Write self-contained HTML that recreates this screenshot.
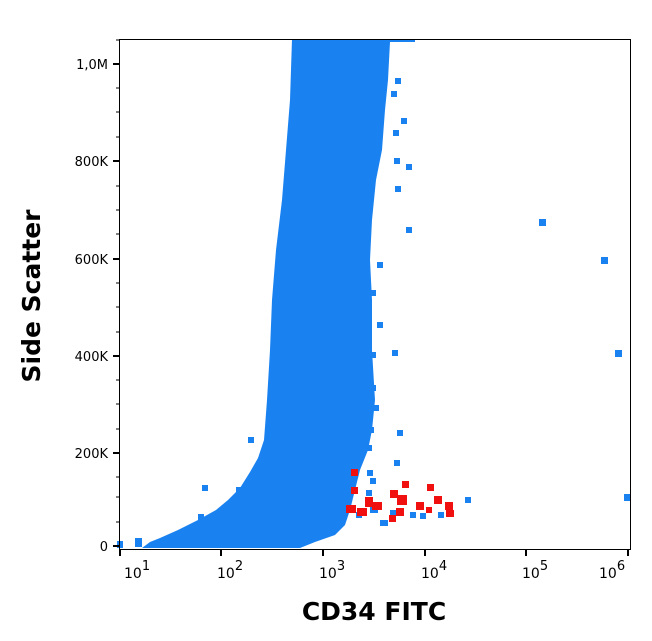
<!DOCTYPE html>
<html><head><meta charset="utf-8"><style>
html,body{margin:0;padding:0;background:#fff;width:652px;height:641px;overflow:hidden}
svg{display:block}
text{font-family:"DejaVu Sans","Liberation Sans",sans-serif}
</style></head><body>
<svg width="652" height="641" viewBox="0 0 652 641" xmlns="http://www.w3.org/2000/svg">
<g fill="#1a82f0">
<polygon points="292,39 415,39 415,42 390,42 388,80 385,110 382,150 376,180 372,220 370,260 372,300 372,350 375,400 372,430 368,450 360,470 355,490 350,510 345,525 335,535 315,542 300,548 142,548 150,542 160,538 178,530 198,520 216,510 228,500 240,488 250,472 258,458 264,440 267,400 270,350 272,300 276,250 282,200 286,150 290,100"/>
<rect x="117" y="541" width="6" height="7"/><rect x="135" y="538" width="7" height="9"/>
<rect x="198" y="514" width="6" height="6"/><rect x="202" y="485" width="6" height="6"/>
<rect x="236" y="487" width="6" height="6"/><rect x="248" y="437" width="6" height="6"/>
<rect x="261" y="498" width="5" height="8"/>
<rect x="395" y="78" width="6" height="6"/><rect x="391" y="91" width="6" height="6"/>
<rect x="401" y="118" width="6" height="6"/><rect x="393" y="130" width="6" height="6"/>
<rect x="394" y="158" width="6" height="6"/><rect x="406" y="164" width="6" height="6"/>
<rect x="395" y="186" width="6" height="6"/><rect x="406" y="227" width="6" height="6"/>
<rect x="377" y="262" width="6" height="6"/><rect x="370" y="290" width="6" height="6"/>
<rect x="377" y="322" width="6" height="6"/><rect x="392" y="350" width="6" height="6"/>
<rect x="370" y="352" width="6" height="6"/><rect x="370" y="385" width="6" height="6"/>
<rect x="373" y="405" width="6" height="6"/><rect x="397" y="430" width="6" height="6"/>
<rect x="368" y="427" width="6" height="6"/><rect x="366" y="445" width="6" height="6"/>
<rect x="394" y="460" width="6" height="6"/><rect x="367" y="470" width="6" height="6"/>
<rect x="370" y="478" width="6" height="6"/><rect x="366" y="490" width="6" height="6"/>
<rect x="370" y="505" width="8" height="8"/><rect x="390" y="510" width="6" height="8"/>
<rect x="410" y="512" width="6" height="6"/><rect x="438" y="512" width="6" height="6"/>
<rect x="465" y="497" width="6" height="6"/><rect x="356" y="512" width="6" height="6"/>
<rect x="380" y="520" width="8" height="6"/><rect x="420" y="513" width="6" height="6"/>
<rect x="539" y="219" width="7" height="7"/><rect x="601" y="257" width="7" height="7"/>
<rect x="615" y="350" width="7" height="7"/><rect x="624" y="494" width="7" height="7"/>
</g>
<g fill="#f01010">
<rect x="351" y="469" width="7" height="7"/><rect x="351" y="487" width="7" height="7"/>
<rect x="346" y="505" width="10" height="8"/><rect x="357" y="508" width="10" height="8"/>
<rect x="365" y="497" width="8" height="10"/><rect x="372" y="502" width="10" height="8"/>
<rect x="390" y="490" width="8" height="8"/><rect x="397" y="495" width="10" height="10"/>
<rect x="396" y="508" width="8" height="8"/><rect x="389" y="515" width="7" height="7"/>
<rect x="402" y="481" width="7" height="7"/><rect x="416" y="502" width="8" height="8"/>
<rect x="427" y="484" width="7" height="7"/><rect x="434" y="496" width="8" height="8"/>
<rect x="445" y="502" width="8" height="8"/><rect x="446" y="510" width="8" height="7"/>
<rect x="426" y="507" width="6" height="6"/>
</g>
<rect x="119.5" y="39.5" width="511" height="510" fill="none" stroke="#000" stroke-width="1"/>
<g stroke="#000" stroke-width="2">
<line x1="113" y1="546" x2="119" y2="546"/><line x1="113" y1="453" x2="119" y2="453"/>
<line x1="113" y1="356" x2="119" y2="356"/><line x1="113" y1="259" x2="119" y2="259"/>
<line x1="113" y1="161" x2="119" y2="161"/><line x1="113" y1="64" x2="119" y2="64"/>
<line x1="120" y1="550" x2="120" y2="556"/><line x1="221" y1="550" x2="221" y2="556"/>
<line x1="323" y1="550" x2="323" y2="556"/><line x1="425" y1="550" x2="425" y2="556"/>
<line x1="526" y1="550" x2="526" y2="556"/><line x1="628" y1="550" x2="628" y2="556"/>
</g>
<g stroke="#000" stroke-width="1">
<line x1="116" y1="522" x2="119" y2="522"/><line x1="116" y1="497" x2="119" y2="497"/><line x1="116" y1="477" x2="119" y2="477"/>
<line x1="116" y1="429" x2="119" y2="429"/><line x1="116" y1="404" x2="119" y2="404"/><line x1="116" y1="380" x2="119" y2="380"/>
<line x1="116" y1="332" x2="119" y2="332"/><line x1="116" y1="307" x2="119" y2="307"/><line x1="116" y1="283" x2="119" y2="283"/>
<line x1="116" y1="234" x2="119" y2="234"/><line x1="116" y1="210" x2="119" y2="210"/><line x1="116" y1="186" x2="119" y2="186"/>
<line x1="116" y1="137" x2="119" y2="137"/><line x1="116" y1="112" x2="119" y2="112"/><line x1="116" y1="88" x2="119" y2="88"/>
<line x1="116" y1="40" x2="119" y2="40"/>
</g>
<g stroke="#000" stroke-width="1" id="mt"></g>
<g font-size="13" text-anchor="end" fill="#000">
<text x="108" y="551">0</text><text x="108" y="458">200K</text><text x="108" y="361">400K</text>
<text x="108" y="264">600K</text><text x="108" y="166">800K</text><text x="108" y="69">1,0M</text>
</g>
<g font-size="14" fill="#000">
<text x="124" y="578">10<tspan dy="-8" font-size="13">1</tspan></text>
<text x="217" y="578">10<tspan dy="-8" font-size="13">2</tspan></text>
<text x="319" y="578">10<tspan dy="-8" font-size="13">3</tspan></text>
<text x="421" y="578">10<tspan dy="-8" font-size="13">4</tspan></text>
<text x="522" y="578">10<tspan dy="-8" font-size="13">5</tspan></text>
<text x="599" y="578">10<tspan dy="-8" font-size="13">6</tspan></text>
</g>
<text x="374" y="620" font-size="25" font-weight="bold" text-anchor="middle">CD34 FITC</text>
<text transform="translate(40,296) rotate(-90)" font-size="25" font-weight="bold" text-anchor="middle">Side Scatter</text>
<script>
var g=document.getElementById('mt'),s='';
for(var d=0;d<6;d++){var b=120+d*101.6;for(var k=2;k<10;k++){var x=b+Math.log10(k)*101.6;if(x>630)continue;s+='<line x1="'+x+'" y1="550" x2="'+x+'" y2="'+(k==5?555:553)+'"/>';}}
g.innerHTML=s;
</script>
</svg>
</body></html>
